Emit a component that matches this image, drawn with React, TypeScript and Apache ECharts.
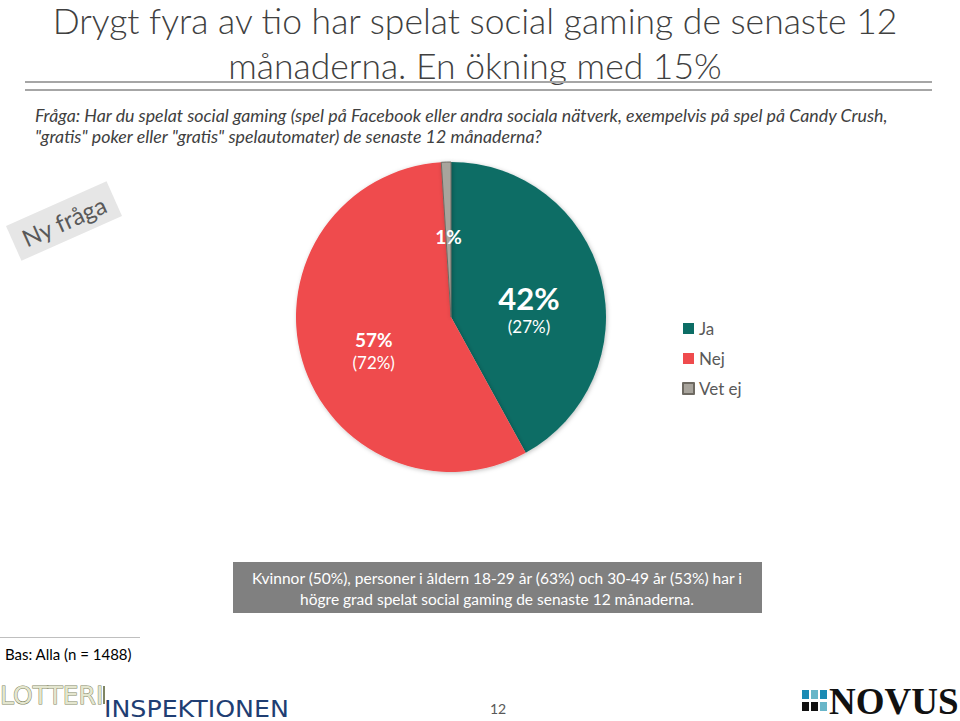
import React, { useEffect, useRef } from "react";
import * as echarts from "echarts";

const titleLines = ["Drygt fyra av tio har spelat social gaming de senaste 12", "månaderna. En ökning med 15%"];
const questionLines = [
  "Fråga: Har du spelat social gaming (spel på Facebook eller andra sociala nätverk, exempelvis på spel på Candy Crush,",
  "\"gratis\" poker eller \"gratis\" spelautomater) de senaste 12 månaderna?",
];
const categories = ["Ja", "Nej", "Vet ej"];
const values = [42, 57, 1];
const previousValues: (number | null)[] = [27, 72, null];
const sliceColors = ["#0C6D65", "#EF4B4D", "#A8A49C"];
const noteLines = [
  "Kvinnor (50%), personer i åldern 18-29 år (63%) och 30-49 år (53%) har i",
  "högre grad spelat social gaming de senaste 12 månaderna.",
];
const baseText = "Bas: Alla (n = 1488)";
const stampText = "Ny fråga";
const pageNumber = "12";

const FONT = "Lato, 'Open Sans', sans-serif";

export default function App() {
  const ref = useRef<HTMLDivElement>(null);
  useEffect(() => {
    if (!ref.current) return;
    const chart = echarts.init(ref.current, null, { renderer: "svg" });
    const richLabel = (i: number) => {
      const v = values[i] + "%";
      const p = previousValues[i];
      if (i === 0) return `{big|${v}}\n{small|(${p}%)}`;
      if (p == null) return `{mid|${v}}`;
      return `{mid|${v}}\n{small|(${p}%)}`;
    };
    const labelDy = [12, 11, 0];
    const data = categories.map((name, i) => ({
      name,
      value: values[i],
      itemStyle:
        i === 2
          ? { color: sliceColors[i], borderColor: "#6E6A62", borderWidth: 1 }
          : { color: sliceColors[i] },
    }));
    chart.setOption({
      animation: false,
      backgroundColor: "#ffffff",
      legend: {
        orient: "vertical",
        left: 677,
        top: 315,
        itemWidth: 11,
        itemHeight: 11,
        itemGap: 13,
        icon: "rect",
        data: categories,
        textStyle: { fontFamily: FONT, fontSize: 17, color: "#595959" },
      },
      series: [
        {
          type: "pie",
          center: [451, 317],
          radius: 155,
          startAngle: 90,
          clockwise: true,
          avoidLabelOverlap: false,
          data,
          itemStyle: { shadowBlur: 4, shadowColor: "rgba(0,0,0,0.25)", shadowOffsetX: 1, shadowOffsetY: 1 },
          emphasis: { disabled: true },
          label: {
            show: true,
            position: "inside",
            formatter: (p: any) => richLabel(p.dataIndex),
            color: "#ffffff",
            fontFamily: FONT,
            rich: {
              big: { fontSize: 31, fontWeight: "bold", color: "#ffffff", fontFamily: FONT, lineHeight: 36 },
              mid: { fontSize: 19, fontWeight: "bold", color: "#ffffff", fontFamily: FONT, lineHeight: 24 },
              small: { fontSize: 17, color: "#ffffff", fontFamily: FONT, lineHeight: 22 },
            },
          },
          labelLine: { show: false },
          labelLayout: (p: any) => ({ dy: labelDy[p.dataIndex] }),
        },
      ],
      graphic: [
        {
          type: "text",
          x: 475,
          y: 2,
          style: { text: titleLines[0], font: `300 35.5px ${FONT}`, fill: "#404040", align: "center", verticalAlign: "top", lineHeight: 36 },
        },
        {
          type: "text",
          x: 475,
          y: 47,
          style: { text: titleLines[1], font: `300 35.5px ${FONT}`, fill: "#404040", align: "center", verticalAlign: "top", lineHeight: 36 },
        },
        { type: "rect", shape: { x: 25, y: 81, width: 907, height: 2 }, style: { fill: "#A6A6A6" } },
        { type: "rect", shape: { x: 25, y: 89, width: 907, height: 2 }, style: { fill: "#A6A6A6" } },
        {
          type: "text",
          x: 35,
          y: 115,
          style: { text: questionLines[0], font: `italic 17.8px ${FONT}`, fill: "#404040", verticalAlign: "middle" },
        },
        {
          type: "text",
          x: 35,
          y: 136,
          style: { text: questionLines[1], font: `italic 17.8px ${FONT}`, fill: "#404040", verticalAlign: "middle" },
        },
        {
          type: "group",
          x: 64,
          y: 221,
          rotation: (24 * Math.PI) / 180,
          children: [
            { type: "rect", shape: { x: -55, y: -19, width: 110, height: 38 }, style: { fill: "#E6E6E6" } },
            {
              type: "text",
              style: {
                text: stampText,
                font: `24px ${FONT}`,
                fill: "#595959",
                align: "center",
                verticalAlign: "middle",
              },
            },
          ],
        },
        { type: "rect", shape: { x: 233, y: 562, width: 529, height: 51 }, style: { fill: "#808080" } },
        {
          type: "text",
          x: 497,
          y: 578,
          style: { text: noteLines[0], font: `15.5px ${FONT}`, fill: "#ffffff", align: "center", verticalAlign: "middle" },
        },
        {
          type: "text",
          x: 497,
          y: 599,
          style: { text: noteLines[1], font: `15.5px ${FONT}`, fill: "#ffffff", align: "center", verticalAlign: "middle" },
        },
        { type: "rect", shape: { x: 0, y: 637, width: 140, height: 1 }, style: { fill: "#BFBFBF" } },
        { type: "text", x: 5, y: 654, style: { text: baseText, font: `15px ${FONT}`, fill: "#000000", verticalAlign: "middle" } },
        {
          type: "text",
          x: 0,
          y: 695,
          style: {
            text: "LOTTERI",
            font: `25px 'DejaVu Sans', sans-serif`,
            fill: "#E4E6CF",
            stroke: "#7F8562",
            lineWidth: 1,
            verticalAlign: "middle",
          },
        },
        { type: "rect", shape: { x: 103, y: 686, width: 2, height: 18 }, style: { fill: "#7F8562" } },
        {
          type: "text",
          x: 104,
          y: 709,
          scaleX: 1.1,
          style: { text: "INSPEKTIONEN", font: `23px 'DejaVu Sans', sans-serif`, fill: "#1F3E73", verticalAlign: "middle" },
        },
        { type: "text", x: 498, y: 708, style: { text: pageNumber, font: `14px ${FONT}`, fill: "#595959", align: "center", verticalAlign: "middle" } },
        { type: "rect", shape: { x: 802, y: 690, width: 7, height: 9 }, style: { fill: "#1B8BB4" } },
        { type: "rect", shape: { x: 811, y: 690, width: 7, height: 9 }, style: { fill: "#68B6C9" } },
        { type: "rect", shape: { x: 820, y: 690, width: 7, height: 9 }, style: { fill: "#1B8BB4" } },
        { type: "rect", shape: { x: 802, y: 702, width: 7, height: 9 }, style: { fill: "#111111" } },
        { type: "rect", shape: { x: 811, y: 702, width: 7, height: 9 }, style: { fill: "#111111" } },
        { type: "rect", shape: { x: 820, y: 702, width: 7, height: 9 }, style: { fill: "#68B6C9" } },
        {
          type: "text",
          x: 829,
          y: 701,
          style: { text: "NOVUS", font: `bold 37px 'Liberation Serif', serif`, fill: "#111111", verticalAlign: "middle" },
        },
      ],
    });
    return () => chart.dispose();
  }, []);
  return <div ref={ref} style={{ position: "fixed", left: 0, top: 0, width: 960, height: 721 }} />;
}
